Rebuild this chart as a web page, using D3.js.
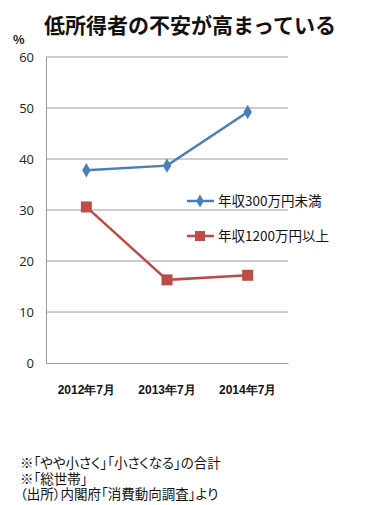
<!DOCTYPE html>
<html><head><meta charset="utf-8">
<script src="https://cdn.jsdelivr.net/npm/d3@7"></script>
<style>body{margin:0;background:#fff;}svg{display:block;font-family:"Noto Sans CJK JP","Noto Sans",sans-serif;}.palt{font-feature-settings:"palt" 1;}</style>
</head><body><svg id="c" width="370" height="505"></svg>
<script>
const categories = ["2012年7月","2013年7月","2014年7月"];
const seriesNames = ["年収300万円未満","年収1200万円以上"];
const low = [37.8, 38.7, 49.2];
const high = [30.6, 16.3, 17.2];
const yTicks = [0,10,20,30,40,50,60];
const title = "低所得者の不安が高まっている";
const notes = ["※「やや小さく」「小さくなる」の合計","※「総世帯」","（出所）内閣府「消費動向調査」より"];

const svg = d3.select("#c");
const m = {l:46, r:288, t:57, b:363};
const x = d3.scaleBand().domain(categories).range([m.l, m.r]);
const y = d3.scaleLinear().domain([0,60]).range([m.b, m.t]);

svg.append("text").attr("x",190).attr("y",33).attr("text-anchor","middle")
  .attr("font-size",21).attr("font-weight","bold").attr("fill","#111").text(title);
svg.append("text").attr("x",13).attr("y",44).attr("font-size",12).attr("font-weight","bold").attr("fill","#111").text("%");

// gridlines
svg.append("g").selectAll("line").data(yTicks.filter(d=>d>0)).join("line")
  .attr("x1",m.l).attr("x2",m.r).attr("y1",d=>y(d)).attr("y2",d=>y(d))
  .attr("stroke","#9a9a9a").attr("stroke-width",1);
const ya = svg.append("g").attr("transform",`translate(${m.l},0)`)
  .call(d3.axisLeft(y).tickValues(yTicks).tickSize(0).tickPadding(12));
ya.select(".domain").attr("stroke","#9a9a9a");
ya.selectAll("text").attr("font-size",13).attr("fill","#222").attr("font-family","'Open Sans','Noto Sans',sans-serif");
const xa = svg.append("g").attr("transform",`translate(0,${m.b})`)
  .call(d3.axisBottom(x).tickSize(0).tickPadding(22));
xa.select(".domain").attr("stroke","#9a9a9a");
xa.selectAll("text").attr("font-size",12).attr("font-weight","bold").attr("fill","#111");

const colors = ["#4a7ebb","#be4b48"];
const line = d3.line().x((d,i)=>x(categories[i])+x.bandwidth()/2).y(d=>y(d));
[low,high].forEach((s,k)=>{
  svg.append("path").attr("d",line(s)).attr("fill","none").attr("stroke",colors[k]).attr("stroke-width",2.5);
  const g = svg.append("g");
  s.forEach((v,i)=>{
    const cx = x(categories[i])+x.bandwidth()/2, cy = y(v);
    if(k===0) g.append("path").attr("d",d3.symbol(d3.symbolDiamond,60)()).attr("transform",`translate(${cx},${cy})`).attr("fill",colors[k]);
    else g.append("rect").attr("x",cx-5.5).attr("y",cy-5.5).attr("width",11).attr("height",11).attr("fill",colors[k]);
  });
});

// legend
const ly = [201,236];
seriesNames.forEach((n,k)=>{
  svg.append("line").attr("x1",187).attr("x2",214).attr("y1",ly[k]).attr("y2",ly[k]).attr("stroke",colors[k]).attr("stroke-width",2.5);
  if(k===0) svg.append("path").attr("d",d3.symbol(d3.symbolDiamond,50)()).attr("transform",`translate(200,${ly[k]})`).attr("fill",colors[k]);
  else svg.append("rect").attr("x",195).attr("y",ly[k]-5).attr("width",10).attr("height",10).attr("fill",colors[k]);
  svg.append("text").attr("x",218).attr("y",ly[k]+5).attr("font-size",13.5).attr("fill","#111").text(n);
});

notes.forEach((t,i)=>{
  svg.append("text").attr("class","palt").attr("x",20).attr("y",468+i*15.5).attr("font-size",13.5).attr("fill","#111").text(t);
});
</script></body></html>
